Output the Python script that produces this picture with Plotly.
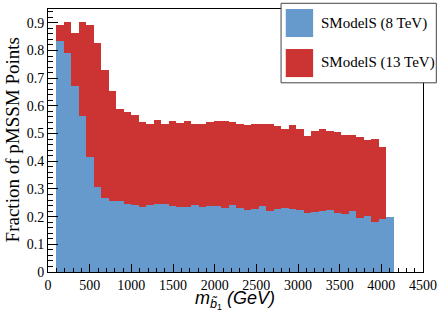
import plotly.graph_objects as go

# Histogram binning (GeV)
bin_start = 100
bin_width = 90

# Fraction of pMSSM points excluded, per sbottom-mass bin
frac_13tev = [0.891, 0.904, 0.863, 0.904, 0.892, 0.828, 0.730, 0.653, 0.587, 0.577,
              0.566, 0.542, 0.534, 0.548, 0.533, 0.546, 0.540, 0.546, 0.536, 0.535,
              0.542, 0.546, 0.547, 0.541, 0.536, 0.531, 0.533, 0.533, 0.533, 0.529,
              0.516, 0.530, 0.516, 0.492, 0.508, 0.517, 0.510, 0.504, 0.494, 0.496,
              0.486, 0.478, 0.479, 0.452]
frac_8tev = [0.834, 0.791, 0.671, 0.563, 0.417, 0.307, 0.267, 0.256, 0.256, 0.247,
             0.241, 0.235, 0.242, 0.246, 0.244, 0.240, 0.235, 0.235, 0.243, 0.236,
             0.240, 0.239, 0.233, 0.242, 0.233, 0.224, 0.228, 0.238, 0.222, 0.226,
             0.233, 0.226, 0.223, 0.213, 0.216, 0.221, 0.223, 0.214, 0.211, 0.221,
             0.195, 0.204, 0.182, 0.193, 0.200]

series_names = ["SModelS (8 TeV)", "SModelS (13 TeV)"]
x_ticks = [0, 500, 1000, 1500, 2000, 2500, 3000, 3500, 4000, 4500]

BLUE = "#6699cc"
RED = "#cc3333"
SERIF = "Liberation Serif, Times New Roman, serif"
SANS = "Liberation Sans, Arial, sans-serif"


def centers(n):
    return [bin_start + bin_width * (i + 0.5) for i in range(n)]


fig = go.Figure()
fig.add_trace(go.Bar(x=centers(len(frac_13tev)), y=frac_13tev, width=bin_width,
                     marker=dict(color=RED, line=dict(width=0)), name=series_names[1],
                     showlegend=False))
fig.add_trace(go.Bar(x=centers(len(frac_8tev)), y=frac_8tev, width=bin_width,
                     marker=dict(color=BLUE, line=dict(width=0)), name=series_names[0],
                     showlegend=False))

axis_common = dict(showline=True, linecolor="black", linewidth=1, mirror=True,
                   ticks="inside", tickcolor="black", tickwidth=1, showgrid=False,
                   zeroline=False, tickfont=dict(family=SERIF, size=14, color="black"))

fig.update_xaxes(range=[0, 4500], tickvals=x_ticks, ticklen=8,
                 minor=dict(dtick=100, ticks="inside", ticklen=4, tickcolor="black"),
                 **axis_common)
fig.update_yaxes(range=[0, 0.95], dtick=0.1, tick0=0, ticklen=10,
                 minor=dict(dtick=0.02, ticks="inside", ticklen=5, tickcolor="black"),
                 **axis_common)

# Custom legend box (large swatches, as in the original)
shapes = [
    dict(type="rect", xref="paper", yref="paper", x0=0.6215, x1=1.0355, y0=0.7194, y1=1.0217,
         fillcolor="white", line=dict(color="#444444", width=1), layer="above"),
    dict(type="rect", xref="paper", yref="paper", x0=0.634, x1=0.707, y0=0.8934, y1=1.0,
         fillcolor=BLUE, line=dict(width=0), layer="above"),
    dict(type="rect", xref="paper", yref="paper", x0=0.634, x1=0.707, y0=0.7411, y1=0.8478,
         fillcolor=RED, line=dict(width=0), layer="above"),
]

annotations = [
    dict(text=series_names[0], xref="paper", yref="paper", x=0.723, y=0.9467,
         xanchor="left", yanchor="middle", showarrow=False,
         font=dict(family=SERIF, size=15, color="black")),
    dict(text=series_names[1], xref="paper", yref="paper", x=0.723, y=0.7956,
         xanchor="left", yanchor="middle", showarrow=False,
         font=dict(family=SERIF, size=15, color="black")),
    dict(text="Fraction of pMSSM Points", xref="paper", yref="paper", x=-0.0956, y=0.501,
         xanchor="center", yanchor="middle", textangle=-90, showarrow=False,
         font=dict(family=SERIF, size=19, color="black")),
    dict(text="<i>m</i><sub><i>b\u0303</i><sub>1</sub></sub><i> (GeV)</i>", xref="paper", yref="paper",
         x=0.499, y=-0.108, xanchor="center", yanchor="middle", showarrow=False,
         font=dict(family=SANS, size=18, color="black")),
]

fig.update_layout(width=445, height=319, margin=dict(l=48, r=22, t=9, b=47),
                  barmode="overlay", bargap=0, plot_bgcolor="white", paper_bgcolor="white",
                  shapes=shapes, annotations=annotations, showlegend=False)

fig.write_html("out.html", config={"displayModeBar": False},
               post_script="document.body.style.margin='0';document.body.style.overflow='hidden';")
